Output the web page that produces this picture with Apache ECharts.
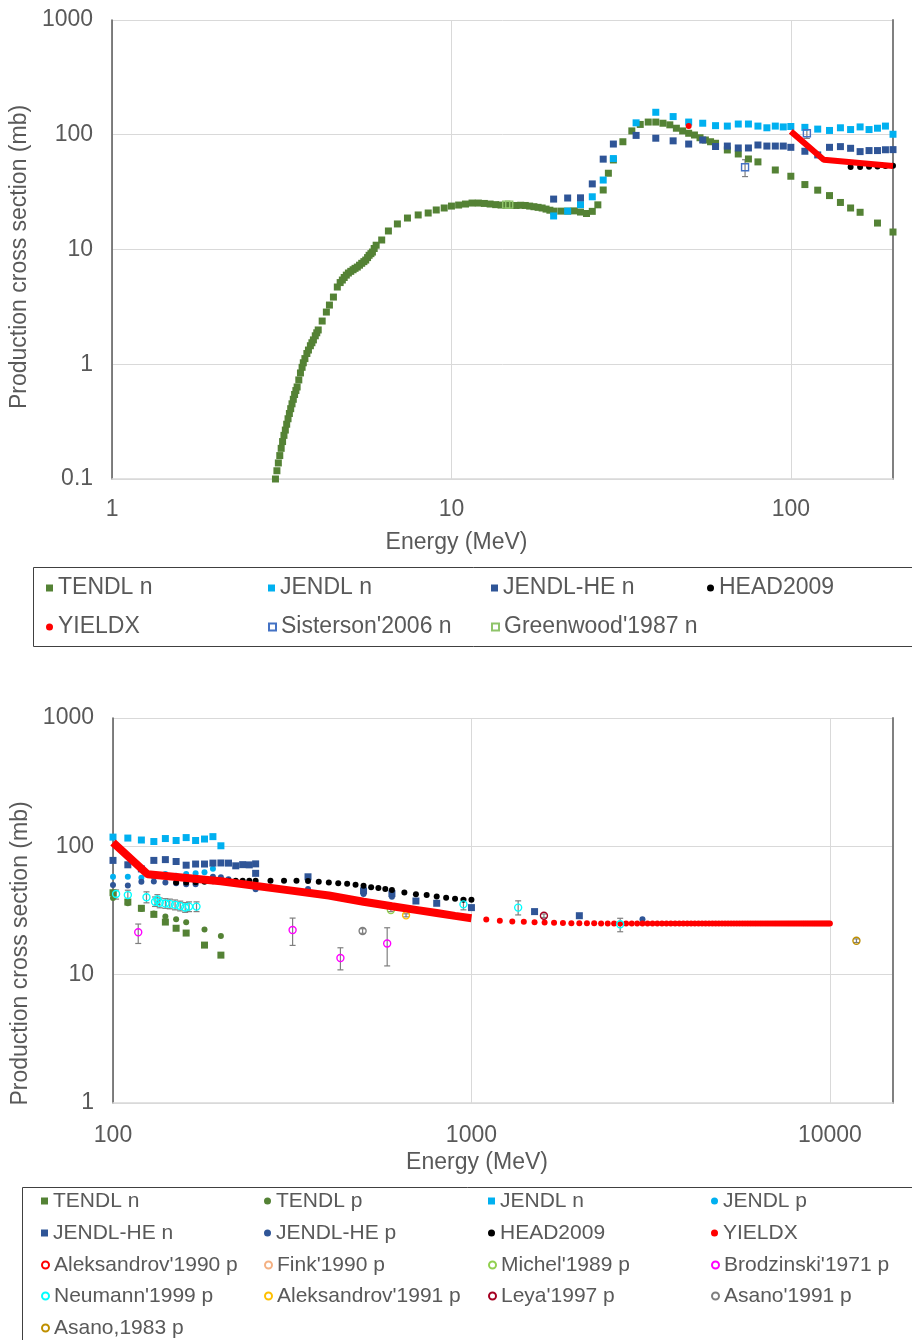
<!DOCTYPE html>
<html><head><meta charset="utf-8">
<script src="https://cdn.jsdelivr.net/npm/echarts@6/dist/echarts.min.js"></script>
<style>html,body{margin:0;padding:0;background:#fff}#c{width:912px;height:1340px}</style>
</head><body><div id="c"></div>
<script>
// ---------------- DATA ----------------
const tendlN_E = [3.03,3.06,3.09,3.12,3.15,3.18,3.21,3.24,3.27,3.30,3.33,3.36,3.39,3.42,3.45,3.48,3.51,3.55,3.59,3.63,3.66,3.70,3.75,3.79,3.84,3.88,3.92,3.97,4.01,4.05,4.16,4.28,4.37,4.49,4.61,4.70,4.77,4.83,4.90,4.97,5.05,5.13,5.20,5.28,5.36,5.44,5.52,5.59,5.66,5.72,5.79,5.85,5.92,6.00,6.23,6.52,6.93,7.42,7.98,8.54,9.02,9.52,10.0,10.5,11.0,11.5,12.0,12.5,13.0,13.5,14.0,14.5,15.0,15.5,16.0,16.5,17.0,17.5,18.0,18.5,19.0,19.5,20,21,22,23,24,25,26,27,28,29,30,32,34,36,38,40,42,44,46,48,50,52,54,56,58,60,65,70,75,80,90,100,110,120,130,140,150,160,180,200];
const tendlN_V = [0.100,0.118,0.138,0.160,0.185,0.212,0.240,0.267,0.300,0.335,0.372,0.410,0.452,0.495,0.545,0.590,0.634,0.730,0.840,0.940,1.03,1.12,1.24,1.33,1.45,1.54,1.63,1.77,1.88,1.99,2.38,2.85,3.28,3.85,4.71,5.15,5.42,5.70,5.98,6.24,6.45,6.66,6.85,7.03,7.30,7.58,7.84,8.09,8.50,8.90,9.20,9.50,10.2,10.9,12.1,14.5,16.7,18.8,20.0,20.8,22.1,23.0,23.9,24.4,24.9,25.4,25.4,25.2,24.9,24.6,24.4,24.2,24.2,24.2,24.3,24.2,23.9,23.6,23.3,23.0,22.5,22.0,21.6,21.6,21.6,21.7,21.2,20.6,21.5,24.5,33.0,46.2,60.3,86.9,108,123,129,129,126,122,114,108,103,99.5,94.2,90,86.9,84.3,73.7,68.0,61.5,58.0,49.3,43.5,36.8,32.9,29.5,25.7,23.0,21.1,17.0,14.2];

const tendlP_E = [100,110,120,130,140,150,160,180,200];
const tendlP_V = [39.5,36.0,32.5,30.0,28.4,27.0,25.6,22.5,20.0];

const jendlN_E = [20,22,24,26,28,30,35,40,45,50,55,60,65,70,75,80,85,90,95,100,110,120,130,140,150,160,170,180,190,200];
const jendlN_V = [19.6,21.6,24.6,28.8,40.3,62,127,157,144,129,126,120,119,124,124,119,115,119,117,118,116,112,109,115,111,117,111,114,119,101];

const jendlP_E = [100,110,120,130,140,150,160,170,180,190];
const jendlP_V = [57.9,57.9,56.9,58,60.8,59,60.8,61.6,62.7,66.9];

const jendlHeN_E = [20,22,24,26,28,30,35,40,45,50,55,60,65,70,75,80,85,90,95,100,110,120,130,140,150,160,170,180,190,200,210,220,230,240,250,250,350,500,600,700,800,1000,1500,2000];
const jendlHeN_V = [27.5,28.1,28.2,37.3,61.3,83,98.7,93.3,88.5,83,90,79,79.7,76.7,76.7,81.4,79.7,79.7,79.7,77.7,71.8,66.7,77.7,78.8,76.2,71.3,72.8,72.8,74,74.2,74,70.5,72,71.7,73,61.6,57.9,45,42.8,37.5,36.0,33.3,31.0,28.8];

const jendlHeP_E = [100,110,120,130,140,150,160,170,180,190,200,210,250,350,500,600,3000];
const jendlHeP_V = [49.9,49.6,53.0,53.2,52.3,51.5,50.6,50.6,54.7,57.9,57.4,55.3,46.3,46.6,42.5,40.5,27.0];

const head_E = [150,160,170,180,190,200,210,220,230,240,250,275,300,325,350,375,400,425,450,475,500,525,550,575,600,650,700,750,800,850,900,950,1000];
const head_V = [52.3,52.3,52.5,53,53.5,53.8,54,54,54,54,54,54,54,54,53.8,53.0,52.3,51.6,51.0,50.1,49.3,47.9,47.4,46.6,45.6,43.6,42.3,41.7,40.7,39.7,39.0,38.3,38.3];

// YIELDX: densely tabulated curve (drawn as a thick line) + separate points
const yieldxLine_E = [100,125,200,300,400,500,600,700,800,900,1000];
const yieldxLine_V = [107,60.5,53.4,46,41.4,37,34.1,32,30.2,28.7,27.5];
const yieldxDot_E = [50,1100,1200,1300,1400,1500,1600,1700,1800,1900,2000,2100,2200,2300,2400,2500,2600,2700,2800,2900,3000,3100,3200,3300,3400,3500,3600,3700,3800,3900,4000,4100,4200,4300,4400,4500,4600,4700,4800,4900,5000,5100,5200,5300,5400,5500,5600,5700,5800,5900,6000,6100,6200,6300,6400,6500,6600,6700,6800,6900,7000,7100,7200,7300,7400,7500,7600,7700,7800,7900,8000,8100,8200,8300,8400,8500,8600,8700,8800,8900,9000,9100,9200,9300,9400,9500,9600,9700,9800,9900,10000];
const yieldxDot_V = [119,26.9,26.3,26.0,25.8,25.6,25.5,25.4,25.3,25.2,25.2,25.2,25.2,25.1,25.1,25.1,25.1,25.1,25.1,25.1,25.1,25.1,25.1,25.1,25.1,25.1,25.0,25.0,25.0,25.0,25.0,25.0,25.0,25.0,25.0,25.0,25.0,25.0,25.0,25.0,25.0,25.0,25.0,25.0,25.0,25.0,25.0,25.0,25.0,25.0,25.0,25.0,25.0,25.0,25.0,25.0,25.0,25.0,25.0,25.0,25.0,25.0,25.0,25.0,25.0,25.0,25.0,25.0,25.0,25.0,25.0,25.0,25.0,25.0,25.0,25.0,25.0,25.0,25.0,25.0,25.0,25.0,25.0,25.0,25.0,25.0,25.0,25.0,25.0,25.0,25.0];

// experiments (E, value, low, high)
const sister_E = [73.3,111.5];
const sister_V = [52.1,103];
const sister_Lo = [43.2,93];
const sister_Hi = [60.6,111];

const greenwood_E = [14.5,14.8];
const greenwood_V = [24.6,24.6];

const neumann_E = [102,110,124,131,133,135,140,144,149,154,159,163,171,950,1350,2600];
const neumann_V = [42.5,41.7,40.1,37.0,38.5,36.3,35.9,35.6,35.0,34.3,33.4,33.9,33.9,35.3,33.3,24.7];
const neumann_Lo = [38.8,38.2,36.3,34.0,35.2,33.2,32.9,32.6,32.0,31.4,30.6,31.0,31.0,32.0,29.2,21.6];
const neumann_Hi = [45.7,45.5,44.2,40.3,42.0,39.6,39.1,38.8,38.2,37.4,36.4,36.9,36.9,38.9,37.6,27.5];

const brod_E = [117.6,317,431,582];
const brod_V = [21.4,22.3,13.5,17.5];
const brod_Lo = [17.5,16.9,10.9,11.7];
const brod_Hi = [24.8,27.6,16.2,23.2];

const asano91_E = [497]; const asano91_V = [21.9]; const asano91_Lo = [21.0]; const asano91_Hi = [22.8];
const michel_E = [596]; const michel_V = [31.9]; const michel_Lo = [31.0]; const michel_Hi = [32.8];
const aleks91_E = [657]; const aleks91_V = [29.0]; const aleks91_Lo = [28.2]; const aleks91_Hi = [29.8];
const leya_E = [1593]; const leya_V = [28.8]; const leya_Lo = [27.9]; const leya_Hi = [29.7];
const asano83_E = [11860]; const asano83_V = [18.4]; const asano83_Lo = [17.8]; const asano83_Hi = [19.0];
const aleks90_E = []; const aleks90_V = [];
const fink_E = []; const fink_V = [];

const topLegendRows = [["TENDL n","JENDL n","JENDL-HE n","HEAD2009"],["YIELDX","Sisterson'2006 n","Greenwood'1987 n"]];
const botLegendRows = [["TENDL n","TENDL p","JENDL n","JENDL p"],["JENDL-HE n","JENDL-HE p","HEAD2009","YIELDX"],["Aleksandrov'1990 p","Fink'1990 p","Michel'1989 p","Brodzinski'1971 p"],["Neumann'1999 p","Aleksandrov'1991 p","Leya'1997 p","Asano'1991 p"],["Asano,1983 p"]];

// ---------------- BUILD ----------------
const FONT = "'Liberation Sans', Arial, sans-serif";
const FS = 23;
const TXT = '#595959';
const zip = (a, b) => a.map((x, i) => [x, b[i]]);
const zip3 = (a, b, c) => a.map((x, i) => [x, b[i], c[i]]);
const minE = (a, b, m) => zip(a, b).filter(p => p[0] >= m);

function sc(name, data, gi, symbol, color, size, hollow) {
  return {
    name, type: 'scatter', xAxisIndex: gi, yAxisIndex: gi * 2,
    data, symbol, symbolSize: size,
    itemStyle: hollow ? { color: 'rgba(255,255,255,0)', borderColor: color, borderWidth: 1.4, opacity: 1 } : { color, opacity: 1 },
    emphasis: { disabled: true }
  };
}
function eb(data, gi) {
  return {
    type: 'custom', xAxisIndex: gi, yAxisIndex: gi * 2, data, silent: true,
    renderItem: (params, api) => {
      const p1 = api.coord([api.value(0), api.value(1)]);
      const p2 = api.coord([api.value(0), api.value(2)]);
      const st = { stroke: '#7F7F7F', lineWidth: 1.2 };
      return { type: 'group', children: [
        { type: 'line', shape: { x1: p1[0], y1: p1[1], x2: p2[0], y2: p2[1] }, style: st },
        { type: 'line', shape: { x1: p1[0] - 3, y1: p1[1], x2: p1[0] + 3, y2: p1[1] }, style: st },
        { type: 'line', shape: { x1: p2[0] - 3, y1: p2[1], x2: p2[0] + 3, y2: p2[1] }, style: st }
      ]};
    }
  };
}
function ln(name, data, gi, width) {
  return { name, type: 'line', xAxisIndex: gi, yAxisIndex: gi * 2, data, showSymbol: false, symbol: 'circle',
    lineStyle: { color: '#FF0000', width }, itemStyle: { color: '#FF0000' }, emphasis: { disabled: true } };
}

const C = { tendl: '#548235', jendl: '#00B0F0', jhe: '#2F5597', head: '#000000', yx: '#FF0000' };

const series = [
  // top chart
  sc('TENDL n', zip(tendlN_E, tendlN_V), 0, 'rect', C.tendl, 7),
  sc('JENDL n', zip(jendlN_E, jendlN_V), 0, 'rect', C.jendl, 7),
  sc('JENDL-HE n', zip(jendlHeN_E, jendlHeN_V).filter(p => p[0] <= 200), 0, 'rect', C.jhe, 7),
  sc('HEAD2009', zip(head_E, head_V).filter(p => p[0] <= 200), 0, 'circle', C.head, 6),
  sc('YIELDX', zip(yieldxDot_E, yieldxDot_V).filter(p => p[0] <= 200), 0, 'circle', C.yx, 6),
  ln('YIELDX', zip(yieldxLine_E, yieldxLine_V).filter(p => p[0] <= 200), 0, 6),
  eb(zip3(sister_E, sister_Lo, sister_Hi), 0),
  sc("Sisterson'2006 n", zip(sister_E, sister_V), 0, 'rect', '#4472C4', 7, true),
  sc("Greenwood'1987 n", zip(greenwood_E, greenwood_V), 0, 'rect', '#8FC46A', 7, true),
  // bottom chart
  sc('TENDL n', minE(tendlN_E, tendlN_V, 100), 1, 'rect', C.tendl, 7),
  sc('TENDL p', zip(tendlP_E, tendlP_V), 1, 'circle', C.tendl, 6),
  sc('JENDL n', minE(jendlN_E, jendlN_V, 100), 1, 'rect', C.jendl, 7),
  sc('JENDL p', zip(jendlP_E, jendlP_V), 1, 'circle', C.jendl, 6),
  sc('JENDL-HE n', minE(jendlHeN_E, jendlHeN_V, 100), 1, 'rect', C.jhe, 7),
  sc('JENDL-HE p', zip(jendlHeP_E, jendlHeP_V), 1, 'circle', C.jhe, 6),
  sc('HEAD2009', zip(head_E, head_V), 1, 'circle', C.head, 6),
  sc('YIELDX', minE(yieldxDot_E, yieldxDot_V, 100), 1, 'circle', C.yx, 6),
  ln('YIELDX', zip(yieldxLine_E, yieldxLine_V), 1, 8),
  sc("Aleksandrov'1990 p", zip(aleks90_E, aleks90_V), 1, 'circle', '#FF0000', 7, true),
  sc("Fink'1990 p", zip(fink_E, fink_V), 1, 'circle', '#F4B183', 7, true),
  eb(zip3(michel_E, michel_Lo, michel_Hi), 1),
  sc("Michel'1989 p", zip(michel_E, michel_V), 1, 'circle', '#92D050', 7, true),
  eb(zip3(brod_E, brod_Lo, brod_Hi), 1),
  sc("Brodzinski'1971 p", zip(brod_E, brod_V), 1, 'circle', '#FF00FF', 7, true),
  eb(zip3(neumann_E, neumann_Lo, neumann_Hi), 1),
  sc("Neumann'1999 p", zip(neumann_E, neumann_V), 1, 'circle', '#00FFFF', 7, true),
  eb(zip3(aleks91_E, aleks91_Lo, aleks91_Hi), 1),
  sc("Aleksandrov'1991 p", zip(aleks91_E, aleks91_V), 1, 'circle', '#FFC000', 7, true),
  eb(zip3(leya_E, leya_Lo, leya_Hi), 1),
  sc("Leya'1997 p", zip(leya_E, leya_V), 1, 'circle', '#A50021', 7, true),
  eb(zip3(asano91_E, asano91_Lo, asano91_Hi), 1),
  sc("Asano'1991 p", zip(asano91_E, asano91_V), 1, 'circle', '#7F7F7F', 7, true),
  eb(zip3(asano83_E, asano83_Lo, asano83_Hi), 1),
  sc('Asano,1983 p', zip(asano83_E, asano83_V), 1, 'circle', '#BF9000', 7, true)
];

const numFmt = v => String(+(+v).toPrecision(6));

function xAx(gi, min, max, gap, shift, margin) {
  return {
    type: 'log', logBase: 10, gridIndex: gi, min, max,
    name: 'Energy (MeV)', nameLocation: 'middle', nameGap: gap,
    nameTextStyle: { fontSize: FS, color: TXT, fontFamily: FONT, padding: [0, shift, 0, 0] },
    axisLine: { show: true, lineStyle: { color: '#D9D9D9', width: 1.5 } },
    axisTick: { show: false },
    axisLabel: { fontSize: FS, color: TXT, fontFamily: FONT, margin, showMaxLabel: false, formatter: numFmt },
    splitLine: { show: true, lineStyle: { color: '#D9D9D9', width: 1 } }
  };
}
function yAx(gi, min, max, gap, padR) {
  return {
    type: 'log', logBase: 10, gridIndex: gi, min, max,
    name: 'Production cross section (mb)', nameLocation: 'middle', nameGap: gap, nameRotate: 90,
    nameTextStyle: { fontSize: FS, color: TXT, fontFamily: FONT, padding: [0, padR, 0, 0] },
    axisLine: { show: true, onZero: false, lineStyle: { color: '#595959', width: 1.5 } },
    axisTick: { show: false },
    axisLabel: { fontSize: FS, color: TXT, fontFamily: FONT, margin: 19, formatter: numFmt },
    splitLine: { show: true, lineStyle: { color: '#D9D9D9', width: 1 } }
  };
}
function yRight(gi, min, max) {
  return { type: 'log', logBase: 10, gridIndex: gi, min, max, position: 'right',
    axisLine: { show: true, lineStyle: { color: '#808080', width: 2 } },
    axisTick: { show: false }, axisLabel: { show: false }, splitLine: { show: false } };
}

// one legend component per entry, laid out in columns
function legends(rows, textX, rowY, fs) {
  const out = [];
  rows.forEach((r, i) => r.forEach((name, j) => {
    out.push({
      data: [name], left: textX[j] - 12, top: rowY[i] - 13, orient: 'horizontal', padding: 0,
      itemGap: 0, itemWidth: 7, itemHeight: 7, selectedMode: false,
      textStyle: { fontSize: fs, color: TXT, fontFamily: FONT, lineHeight: 26 }
    });
  }));
  return out;
}

const option = {
  animation: false,
  backgroundColor: '#fff',
  grid: [
    { left: 112, top: 20, width: 781, height: 459 },
    { left: 113, top: 718, width: 780, height: 385 }
  ],
  xAxis: [xAx(0, 1, 200, 52, 92, 19), xAx(1, 100, 15000, 48, 52, 21)],
  yAxis: [yAx(0, 0.1, 1000, 78, 15), yRight(0, 0.1, 1000), yAx(1, 1, 1000, 78, 86), yRight(1, 1, 1000)],
  legend: [].concat(
    legends(topLegendRows, [58, 280, 503, 719], [588, 627], 23),
    legends(botLegendRows, [53, 276, 500, 723], [1201, 1233, 1265, 1296, 1328], 21)
  ),
  graphic: [
    { type: 'rect', shape: { x: 33.5, y: 567.5, width: 900, height: 79 }, style: { fill: 'none', stroke: '#404040', lineWidth: 1 }, silent: true },
    { type: 'rect', shape: { x: 22.5, y: 1187.5, width: 900, height: 170 }, style: { fill: 'none', stroke: '#404040', lineWidth: 1 }, silent: true }
  ],
  series
};

const chart = echarts.init(document.getElementById('c'), null, { renderer: 'canvas' });
chart.setOption(option);
</script></body></html>
